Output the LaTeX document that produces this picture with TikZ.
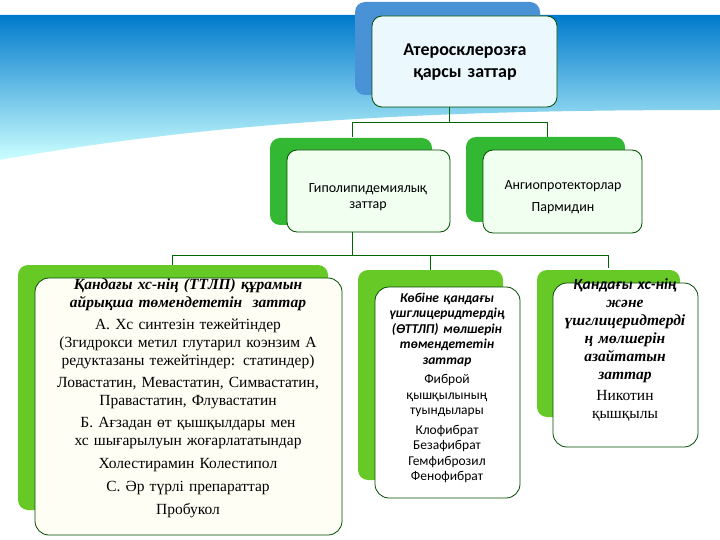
\documentclass[tikz,border=0pt]{standalone}
\usepackage{fontspec}
\setmainfont{Liberation Serif}
\newfontfamily\calfont{Carlito}
\begin{document}
\begin{tikzpicture}[x=1pt,y=-1pt,
 back/.style={fill=#1,rounded corners=10pt},
 front/.style={draw=black!70!green,line width=0.8pt,rounded corners=10pt},
 conn/.style={draw=black!60!green,line width=0.5pt},
 txt/.style={align=center,text width=#1}]
\useasboundingbox (0,0) rectangle (720,540);
\fill[white] (0,0) rectangle (720,540);
% background wave
\shade[top color=blue!40!cyan!80!black,bottom color=cyan!20] (0,15) -- (720,15) -- (720,110) .. controls (500,110) and (250,115) .. (0,160) -- cycle;
\fill[white] (0,160) .. controls (250,118) and (500,113) .. (720,112) -- (720,122) .. controls (500,128) and (250,135) .. (0,175) -- cycle;
% top
\fill[back=cyan!60!blue!75] (355,2) rectangle (540,95);
\filldraw[front,fill=cyan!8] (372,16) rectangle (557,107);
\node[txt=180pt,font=\calfont\bfseries\fontsize{18}{22}\selectfont] (top) at (465,62) {Атеросклерозға\\қарсы заттар};
% level 2
\fill[back=green!65!black!80] (270,138) rectangle (432,225);
\filldraw[front,fill=green!6] (287,150) rectangle (450,232);
\node[txt=165pt,font=\calfont\fontsize{14}{16}\selectfont] (hyp) at (368,197) {Гиполипидемиялық\\заттар};
\fill[back=green!65!black!80] (466,137) rectangle (625,222);
\filldraw[front,fill=green!6] (483,150) rectangle (642,233);
\node[txt=165pt,font=\calfont\fontsize{14}{16}\selectfont] (ang) at (563,197) {Ангиопротекторлар\\[6pt]Пармидин};
\draw[conn] (449,107) -- (449,122) (352,137) |- (547,122) -- (547,137);
% level 3 connectors
\draw[conn] (352,232) -- (352,255) (172,265) |- (608,255) -- (608,268) (430,255) -- (430,270);
% left
\fill[back=green!60!yellow!75!black!85] (18,265) rectangle (328,510);
\filldraw[front,fill=yellow!4!white,rounded corners=14pt] (35,278) rectangle (342,535);
\node[txt=300pt,font=\fontsize{15.5}{18}\selectfont] (l) at (188,398) {%
{\bfseries\itshape Қандағы хс-нің (ТТЛП) құрамын\\айрықша төмендететін\ \ заттар}\\[4pt]
А. Хс синтезін тежейтіндер (3гидрокси метил глутарил коэнзим А редуктазаны тежейтіндер: статиндер)\\[4pt]
Ловастатин, Мевастатин, Симвастатин, Правастатин, Флувастатин\\[4pt]
Б. Ағзадан өт қышқылдары мен хс шығарылуын жоғарлататындар\\[5pt]
Холестирамин Колестипол\\[5pt]
С. Әр түрлі препараттар\\[5pt]
Пробукол};
% middle
\fill[back=green!60!yellow!75!black!85] (358,270) rectangle (503,480);
\filldraw[front,fill=white,rounded corners=14pt] (375,287) rectangle (520,498);
\node[txt=140pt,font=\calfont\fontsize{13.5}{15.5}\selectfont] (m) at (447,388) {%
{\bfseries\itshape Көбіне қандағы үшглицеридтердің (ӨТТЛП) мөлшерін төмендететін заттар}\\[4pt]
Фиброй\\қышқылының\\туындылары\\[4pt]
Клофибрат\\Безафибрат\\Гемфиброзил\\Фенофибрат};
% right
\fill[back=green!60!yellow!75!black!85] (537,270) rectangle (680,417);
\filldraw[front,fill=white,rounded corners=14pt] (553,283) rectangle (698,447);
\node[txt=145pt,font=\fontsize{15.5}{18}\selectfont] (r) at (625,350) {%
{\bfseries\itshape{\calfont Қандағы хс-нің}\\және\\үшглицеридтерді\\ң мөлшерін\\азайтатын\\заттар}\\[3pt]
Никотин\\қышқылы};
\end{tikzpicture}
\end{document}
